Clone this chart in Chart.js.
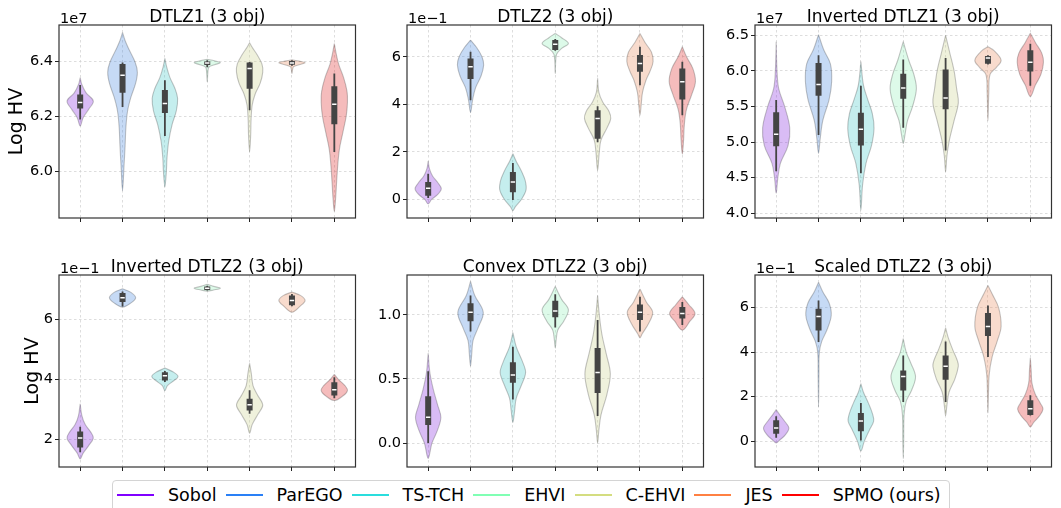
<!DOCTYPE html>
<html>
<head>
<meta charset="utf-8">
<script src="https://cdn.jsdelivr.net/npm/chart.js@4.4.0/dist/chart.umd.min.js"></script>
<style>
  body { margin: 0; background: #fff; font-family: 'DejaVu Sans', sans-serif; }
  #fig { position: relative; width: 1061px; height: 508px; overflow: hidden; background: #fff; }
  #fig canvas { position: absolute; }
  .legend { position: absolute; left: 112px; top: 480px; width: 838px; height: 40px; box-sizing: border-box;
            border: 1px solid #d4d4d4; border-radius: 4px; background: #fff; }
  .legend-row { position: absolute; left: 4px; top: 4px; height: 20px; display: flex; align-items: center;
                font-size: 17.5px; color: #000; white-space: nowrap; }
  .swatch { display: inline-block; width: 37px; height: 2px; margin-right: 14px; }
  .lbl { margin-right: 9px; }
</style>
</head>
<body>
<div id="fig">
  <div class="legend"><div class="legend-row" id="legendRow"></div></div>
</div>
<script>
// ── methods and colours (rainbow colormap, 7 steps) ──
const methods = ['Sobol', 'ParEGO', 'TS-TCH', 'EHVI', 'C-EHVI', 'JES', 'SPMO (ours)'];
const methodColors = ['#8000ff', '#2a80f6', '#2adddd', '#80ffb4', '#d4dd80', '#ff8042', '#ff0000'];

// ── per-panel data: stats = [whiskerLow, q1, median, q3, whiskerHigh]
//    kde = density outline, [value, half-width] from top to bottom ──

// DTLZ1 (x1e7)
const dtlz1Ticks = ['6.0', '6.2', '6.4'];
const dtlz1Limits = [5.831, 6.531];
const dtlz1Stats = [
  [6.188, 6.228, 6.250, 6.279, 6.313],
  [6.234, 6.285, 6.349, 6.390, 6.395],
  [6.128, 6.212, 6.246, 6.295, 6.331],
  [6.378, 6.386, 6.393, 6.399, 6.403],
  [6.222, 6.300, 6.373, 6.395, 6.397],
  [6.383, 6.387, 6.393, 6.400, 6.403],
  [6.070, 6.171, 6.244, 6.309, 6.355],
];
const dtlz1Kde = [
  [[6.34, 0], [6.315, 0.04], [6.285, 0.14], [6.255, 0.31], [6.225, 0.2], [6.195, 0.07], [6.165, 0]],
  [[6.504, 0], [6.475, 0.06], [6.44, 0.16], [6.395, 0.3], [6.36, 0.35], [6.32, 0.31], [6.27, 0.2], [6.22, 0.12], [6.16, 0.08], [6.09, 0.06], [6.02, 0.035], [5.93, 0]],
  [[6.41, 0], [6.38, 0.04], [6.34, 0.12], [6.3, 0.24], [6.265, 0.3], [6.22, 0.27], [6.17, 0.17], [6.11, 0.09], [6.05, 0.05], [6.0, 0.035], [5.943, 0]],
  [[6.407, 0], [6.401, 0.17], [6.394, 0.31], [6.387, 0.17], [6.378, 0.04], [6.36, 0.015], [6.325, 0]],
  [[6.467, 0], [6.45, 0.06], [6.425, 0.17], [6.39, 0.29], [6.36, 0.31], [6.32, 0.25], [6.28, 0.13], [6.24, 0.06], [6.19, 0.035], [6.13, 0.025], [6.07, 0]],
  [[6.405, 0], [6.4, 0.17], [6.394, 0.31], [6.387, 0.17], [6.38, 0.04], [6.37, 0.015], [6.355, 0]],
  [[6.464, 0], [6.43, 0.04], [6.39, 0.1], [6.34, 0.22], [6.29, 0.3], [6.25, 0.31], [6.2, 0.28], [6.14, 0.2], [6.08, 0.12], [6.02, 0.08], [5.95, 0.05], [5.9, 0.03], [5.855, 0]],
];

// DTLZ2 (x1e-1)
const dtlz2Ticks = ['0', '2', '4', '6'];
const dtlz2Limits = [-0.78, 7.336];
const dtlz2Stats = [
  [0.06, 0.16, 0.47, 0.73, 1.08],
  [4.17, 5.06, 5.58, 5.93, 6.21],
  [-0.02, 0.30, 0.73, 1.15, 1.53],
  [6.25, 6.28, 6.53, 6.70, 6.75],
  [2.41, 2.55, 3.40, 3.75, 3.92],
  [4.80, 5.37, 5.72, 6.07, 6.42],
  [3.54, 4.20, 4.95, 5.51, 5.79],
];
const dtlz2Kde = [
  [[1.61, 0], [1.3, 0.03], [1.0, 0.1], [0.7, 0.23], [0.45, 0.31], [0.2, 0.22], [0.0, 0.08], [-0.19, 0]],
  [[6.7, 0], [6.4, 0.14], [6.0, 0.27], [5.65, 0.31], [5.2, 0.25], [4.7, 0.12], [4.2, 0.05], [3.65, 0]],
  [[1.92, 0], [1.6, 0.08], [1.2, 0.2], [0.8, 0.29], [0.4, 0.31], [0.0, 0.2], [-0.3, 0.06], [-0.47, 0]],
  [[6.98, 0], [6.8, 0.15], [6.56, 0.31], [6.35, 0.15], [6.1, 0.03], [5.3, 0]],
  [[5.09, 0], [4.5, 0.03], [4.1, 0.12], [3.7, 0.27], [3.4, 0.31], [3.0, 0.22], [2.5, 0.08], [2.0, 0.04], [1.22, 0]],
  [[6.98, 0], [6.6, 0.12], [6.2, 0.27], [5.8, 0.31], [5.4, 0.24], [5.0, 0.14], [4.5, 0.06], [4.0, 0.03], [3.54, 0]],
  [[6.42, 0], [6.0, 0.1], [5.5, 0.25], [4.95, 0.31], [4.4, 0.22], [3.8, 0.1], [3.2, 0.05], [2.5, 0.03], [1.9, 0]],
];

// Inverted DTLZ1 (x1e7)
const invDtlz1Ticks = ['4.0', '4.5', '5.0', '5.5', '6.0', '6.5'];
const invDtlz1Limits = [3.932, 6.645];
const invDtlz1Stats = [
  [4.59, 4.94, 5.11, 5.42, 5.59],
  [5.10, 5.65, 5.81, 6.11, 6.22],
  [4.56, 4.95, 5.18, 5.41, 5.79],
  [5.20, 5.61, 5.76, 5.96, 6.16],
  [4.88, 5.46, 5.62, 6.02, 6.18],
  [6.09, 6.10, 6.18, 6.21, 6.22],
  [5.79, 5.99, 6.12, 6.29, 6.38],
];
const invDtlz1Kde = [
  [[6.41, 0], [6.0, 0.02], [5.75, 0.06], [5.5, 0.2], [5.2, 0.32], [4.95, 0.28], [4.7, 0.1], [4.5, 0.04], [4.28, 0]],
  [[6.51, 0], [6.3, 0.12], [6.1, 0.28], [5.85, 0.31], [5.6, 0.25], [5.3, 0.1], [5.05, 0.04], [4.84, 0]],
  [[6.13, 0], [5.8, 0.06], [5.6, 0.16], [5.4, 0.27], [5.19, 0.31], [4.95, 0.25], [4.7, 0.12], [4.4, 0.04], [4.04, 0]],
  [[6.41, 0], [6.15, 0.13], [5.95, 0.25], [5.75, 0.31], [5.5, 0.22], [5.3, 0.1], [5.1, 0.04], [4.98, 0]],
  [[6.5, 0], [6.25, 0.1], [6.0, 0.2], [5.75, 0.26], [5.55, 0.3], [5.3, 0.2], [5.0, 0.08], [4.8, 0.03], [4.58, 0]],
  [[6.34, 0], [6.28, 0.15], [6.15, 0.31], [6.05, 0.2], [5.95, 0.05], [5.7, 0.02], [5.3, 0]],
  [[6.53, 0], [6.4, 0.12], [6.25, 0.27], [6.12, 0.31], [5.95, 0.25], [5.8, 0.12], [5.64, 0]],
];

// Inverted DTLZ2 (x1e-1)
const invDtlz2Ticks = ['2', '4', '6'];
const invDtlz2Limits = [1.089, 7.479];
const invDtlz2Stats = [
  [1.58, 1.74, 2.05, 2.27, 2.43],
  [6.43, 6.58, 6.72, 6.88, 6.93],
  [3.92, 3.97, 4.13, 4.24, 4.28],
  [6.96, 6.98, 7.04, 7.10, 7.12],
  [2.86, 2.97, 3.16, 3.36, 3.64],
  [6.44, 6.47, 6.63, 6.80, 6.85],
  [3.38, 3.47, 3.66, 3.91, 4.08],
];
const invDtlz2Kde = [
  [[3.19, 0], [2.8, 0.04], [2.5, 0.12], [2.25, 0.25], [2.05, 0.31], [1.8, 0.2], [1.55, 0.07], [1.36, 0]],
  [[7.02, 0], [6.9, 0.2], [6.72, 0.31], [6.55, 0.2], [6.41, 0]],
  [[4.38, 0], [4.25, 0.2], [4.1, 0.31], [3.95, 0.2], [3.8, 0.06], [3.63, 0]],
  [[7.17, 0], [7.1, 0.15], [7.04, 0.31], [6.98, 0.15], [6.94, 0]],
  [[4.54, 0], [4.2, 0.04], [3.8, 0.08], [3.5, 0.18], [3.15, 0.31], [2.85, 0.2], [2.5, 0.06], [2.21, 0]],
  [[6.91, 0], [6.8, 0.2], [6.63, 0.31], [6.45, 0.2], [6.24, 0]],
  [[4.17, 0], [4.0, 0.1], [3.8, 0.25], [3.63, 0.31], [3.45, 0.2], [3.3, 0]],
];

// Convex DTLZ2
const convexTicks = ['0.0', '0.5', '1.0'];
const convexLimits = [-0.187, 1.31];
const convexStats = [
  [0.0, 0.14, 0.20, 0.365, 0.56],
  [0.87, 0.95, 1.02, 1.09, 1.15],
  [0.34, 0.47, 0.53, 0.63, 0.75],
  [0.90, 0.98, 1.03, 1.11, 1.16],
  [0.21, 0.39, 0.55, 0.74, 0.96],
  [0.87, 0.96, 1.02, 1.08, 1.14],
  [0.92, 0.97, 1.01, 1.06, 1.10],
];
const convexKde = [
  [[0.70, 0], [0.55, 0.04], [0.42, 0.12], [0.3, 0.22], [0.2, 0.30], [0.1, 0.22], [0.0, 0.09], [-0.12, 0]],
  [[1.26, 0], [1.15, 0.1], [1.02, 0.30], [0.9, 0.18], [0.8, 0.06], [0.7, 0.03], [0.6, 0]],
  [[0.86, 0], [0.75, 0.08], [0.64, 0.22], [0.55, 0.30], [0.45, 0.2], [0.35, 0.08], [0.25, 0.04], [0.16, 0]],
  [[1.22, 0], [1.12, 0.15], [1.04, 0.31], [0.95, 0.2], [0.88, 0.06], [0.8, 0.02], [0.74, 0]],
  [[1.15, 0], [1.0, 0.04], [0.85, 0.1], [0.7, 0.2], [0.54, 0.30], [0.38, 0.22], [0.22, 0.08], [0.1, 0.03], [0.0, 0]],
  [[1.2, 0], [1.1, 0.15], [1.02, 0.30], [0.93, 0.2], [0.85, 0.05], [0.82, 0]],
  [[1.14, 0], [1.08, 0.15], [1.01, 0.30], [0.95, 0.18], [0.88, 0]],
];

// Scaled DTLZ2 (x1e-1)
const scaledTicks = ['0', '2', '4', '6'];
const scaledLimits = [-1.15, 7.455];
const scaledStats = [
  [0.16, 0.34, 0.60, 0.94, 1.12],
  [4.45, 4.97, 5.60, 5.94, 6.31],
  [0.04, 0.45, 0.91, 1.27, 1.72],
  [1.76, 2.28, 2.91, 3.18, 3.85],
  [1.76, 2.76, 3.36, 3.85, 4.48],
  [3.78, 4.72, 5.15, 5.75, 6.09],
  [1.16, 1.18, 1.46, 1.84, 2.07],
];
const scaledKde = [
  [[1.42, 0], [1.2, 0.08], [0.9, 0.2], [0.6, 0.3], [0.3, 0.22], [0.05, 0.08], [-0.07, 0]],
  [[7.13, 0], [6.7, 0.1], [6.2, 0.25], [5.64, 0.30], [5.0, 0.2], [4.5, 0.08], [4.0, 0.02], [3.0, 0.01], [1.54, 0]],
  [[2.58, 0], [2.2, 0.06], [1.7, 0.18], [1.2, 0.28], [0.9, 0.30], [0.5, 0.2], [0.0, 0.08], [-0.43, 0]],
  [[4.6, 0], [4.0, 0.07], [3.5, 0.18], [2.9, 0.29], [2.3, 0.2], [1.8, 0.07], [1.2, 0.02], [0.0, 0.01], [-0.78, 0]],
  [[5.09, 0], [4.6, 0.07], [4.1, 0.17], [3.6, 0.28], [3.36, 0.30], [2.8, 0.22], [2.2, 0.08], [1.6, 0.03], [1.16, 0]],
  [[6.99, 0], [6.6, 0.1], [6.0, 0.25], [5.15, 0.31], [4.5, 0.22], [3.8, 0.1], [3.0, 0.03], [2.0, 0.01], [1.27, 0]],
  [[3.75, 0], [3.2, 0.02], [2.6, 0.04], [2.1, 0.12], [1.7, 0.24], [1.45, 0.30], [1.15, 0.22], [0.85, 0.08], [0.64, 0]],
];

// ── layout of the 2x3 grid (page pixels) ──
const PAD_L = 58, PAD_T = 25, PAD_R = 4, PAD_B = 12;
const colLefts = [59, 407, 755];
const rowTops = [25, 275];
const rowHeights = [193, 192];
const plotW = 298;

const panels = [
  { title: 'DTLZ1 (3 obj)', offset: '1e7', ticks: dtlz1Ticks, limits: dtlz1Limits, stats: dtlz1Stats, kde: dtlz1Kde, row: 0, col: 0, ylabelX: 16 },
  { title: 'DTLZ2 (3 obj)', offset: '1e\u22121', ticks: dtlz2Ticks, limits: dtlz2Limits, stats: dtlz2Stats, kde: dtlz2Kde, row: 0, col: 1 },
  { title: 'Inverted DTLZ1 (3 obj)', offset: '1e7', ticks: invDtlz1Ticks, limits: invDtlz1Limits, stats: invDtlz1Stats, kde: invDtlz1Kde, row: 0, col: 2 },
  { title: 'Inverted DTLZ2 (3 obj)', offset: '1e\u22121', ticks: invDtlz2Ticks, limits: invDtlz2Limits, stats: invDtlz2Stats, kde: invDtlz2Kde, row: 1, col: 0, ylabelX: 32 },
  { title: 'Convex DTLZ2 (3 obj)', offset: '', ticks: convexTicks, limits: convexLimits, stats: convexStats, kde: convexKde, row: 1, col: 1 },
  { title: 'Scaled DTLZ2 (3 obj)', offset: '1e\u22121', ticks: scaledTicks, limits: scaledLimits, stats: scaledStats, kde: scaledKde, row: 1, col: 2 },
];

const FONT = "'DejaVu Sans', sans-serif";
const boxColor = '#444444';
const edgeColor = 'rgba(63,63,63,0.3)';

// violin fill: colour desaturated to 75% (HLS), then 30% alpha
function violinFill(hex, sat = 0.75, alpha = 0.3) {
  const n = parseInt(hex.slice(1), 16);
  const r = (n >> 16) / 255, g = ((n >> 8) & 255) / 255, b = (n & 255) / 255;
  const mx = Math.max(r, g, b), mn = Math.min(r, g, b);
  const l = (mx + mn) / 2;
  if (mx === mn) return `rgba(${r * 255},${g * 255},${b * 255},${alpha})`;
  const d = mx - mn;
  let s = l > 0.5 ? d / (2 - mx - mn) : d / (mx + mn);
  let h;
  if (mx === r) h = ((g - b) / d) % 6;
  else if (mx === g) h = (b - r) / d + 2;
  else h = (r - g) / d + 4;
  h /= 6; if (h < 0) h += 1;
  s *= sat;
  const q = l < 0.5 ? l * (1 + s) : l + s - l * s;
  const p = 2 * l - q;
  const hue = t => {
    if (t < 0) t += 1; if (t > 1) t -= 1;
    if (t < 1 / 6) return p + (q - p) * 6 * t;
    if (t < 1 / 2) return q;
    if (t < 2 / 3) return p + (q - p) * (2 / 3 - t) * 6;
    return p;
  };
  const c = [hue(h + 1 / 3), hue(h), hue(h - 1 / 3)].map(v => Math.round(v * 255));
  return `rgba(${c[0]},${c[1]},${c[2]},${alpha})`;
}

// frame, panel title, offset text and y label
const panelDecor = {
  id: 'panelDecor',
  afterDraw(chart, args, opts) {
    const { ctx, chartArea: a } = chart;
    ctx.save();
    ctx.strokeStyle = '#333';
    ctx.lineWidth = 1.2;
    ctx.strokeRect(a.left, a.top, a.right - a.left, a.bottom - a.top);

    ctx.fillStyle = '#000';
    ctx.textBaseline = 'alphabetic';
    ctx.font = `17px ${FONT}`;
    ctx.textAlign = 'center';
    ctx.fillText(opts.title, (a.left + a.right) / 2, a.top - 3);

    if (opts.offset) {
      ctx.font = `14.5px ${FONT}`;
      ctx.textAlign = 'left';
      ctx.fillText(opts.offset, a.left + 1, a.top - 2);
    }
    if (opts.ylabelX) {
      ctx.translate(opts.ylabelX, (a.top + a.bottom) / 2);
      ctx.rotate(-Math.PI / 2);
      ctx.font = `19px ${FONT}`;
      ctx.textAlign = 'center';
      ctx.textBaseline = 'middle';
      ctx.fillText('Log HV', 0, 0);
    }
    ctx.restore();
  }
};

// one violin = outline + whisker + box + median marker
function violinDatasets(stats, kde) {
  const sets = [];
  kde.forEach((knots, i) => {
    const right = knots.map(([y, w]) => ({ x: i + w, y }));
    const left = knots.slice(0, -1).reverse().map(([y, w]) => ({ x: i - w, y }));
    sets.push({
      data: right.concat(left), showLine: true, fill: 'shape', tension: 0.35,
      backgroundColor: violinFill(methodColors[i]), borderColor: edgeColor, borderWidth: 1.1,
      pointRadius: 0, order: 3
    });
    const [lo, q1, med, q3, hi] = stats[i];
    sets.push({
      data: [{ x: i, y: lo }, { x: i, y: hi }], showLine: true,
      borderColor: boxColor, borderWidth: 1.8, pointRadius: 0, order: 2
    });
    sets.push({
      data: [{ x: i, y: q1 }, { x: i, y: q3 }], showLine: true,
      borderColor: boxColor, borderWidth: 6, pointRadius: 0, order: 1
    });
    sets.push({
      data: [{ x: i, y: med }], showLine: false,
      pointStyle: 'line', pointRadius: 2.2, pointBorderColor: '#fff', pointBorderWidth: 1.5,
      pointBackgroundColor: '#fff', order: 0
    });
  });
  return sets;
}

const fig = document.getElementById('fig');

panels.forEach(p => {
  const h = rowHeights[p.row];
  const canvas = document.createElement('canvas');
  const cw = plotW + PAD_L + PAD_R, ch = h + PAD_T + PAD_B;
  canvas.width = cw; canvas.height = ch;
  canvas.style.width = cw + 'px'; canvas.style.height = ch + 'px';
  canvas.style.left = (colLefts[p.col] - PAD_L) + 'px';
  canvas.style.top = (rowTops[p.row] - PAD_T) + 'px';
  fig.appendChild(canvas);

  const gridOpts = { color: '#d4d4d4', lineWidth: 0.8, tickLength: 4, tickColor: '#222', tickWidth: 1, tickBorderDash: [] };
  const borderOpts = { display: false, dash: [2.5, 2.5] };

  new Chart(canvas, {
    type: 'scatter',
    data: { datasets: violinDatasets(p.stats, p.kde) },
    plugins: [panelDecor],
    options: {
      responsive: false,
      animation: false,
      events: [],
      layout: { padding: { top: PAD_T, right: PAD_R, left: 0, bottom: 0 } },
      plugins: {
        legend: { display: false },
        tooltip: { enabled: false },
        panelDecor: { title: p.title, offset: p.offset, ylabelX: p.ylabelX }
      },
      scales: {
        x: {
          type: 'linear', min: -0.5, max: 6.5,
          afterBuildTicks: s => { s.ticks = methods.map((_, i) => ({ value: i })); },
          afterFit: s => { s.height = PAD_B; },
          ticks: { display: false },
          grid: gridOpts, border: borderOpts
        },
        y: {
          type: 'linear', min: p.limits[0], max: p.limits[1],
          afterBuildTicks: s => { s.ticks = p.ticks.map(t => ({ value: Number(t) })); },
          afterFit: s => { s.width = PAD_L; },
          ticks: {
            color: '#000', padding: 2, font: { family: FONT, size: 14.5 },
            callback: (v, idx) => p.ticks[idx]
          },
          grid: gridOpts, border: borderOpts
        }
      }
    }
  });
});

// legend row
const legendRow = document.getElementById('legendRow');
methods.forEach((m, i) => {
  const sw = document.createElement('span');
  sw.className = 'swatch';
  sw.style.background = methodColors[i];
  const lb = document.createElement('span');
  lb.className = 'lbl';
  lb.textContent = m;
  legendRow.appendChild(sw);
  legendRow.appendChild(lb);
});
</script>
</body>
</html>
